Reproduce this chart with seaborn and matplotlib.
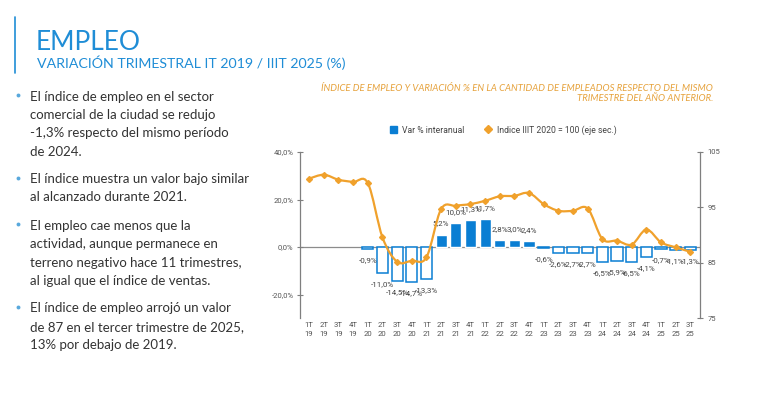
import matplotlib.pyplot as plt
import numpy as np
import pandas as pd
import seaborn as sns
from matplotlib.lines import Line2D
from matplotlib.patches import Patch, PathPatch
from matplotlib.path import Path

QUARTERS = [
    "1T\n19", "2T\n19", "3T\n19", "4T\n19",
    "1T\n20", "2T\n20", "3T\n20", "4T\n20",
    "1T\n21", "2T\n21", "3T\n21", "4T\n21",
    "1T\n22", "2T\n22", "3T\n22", "4T\n22",
    "1T\n23", "2T\n23", "3T\n23", "4T\n23",
    "1T\n24", "2T\n24", "3T\n24", "4T\n24",
    "1T\n25", "2T\n25", "3T\n25",
]
# year-on-year change (%), no data for 2019
VAR_PCT = [
    np.nan, np.nan, np.nan, np.nan,
    -0.9, -11.0, -14.5, -14.7,
    -13.3, 5.2, 10.0, 11.3,
    11.7, 2.8, 3.0, 2.4,
    -0.6, -2.6, -2.7, -2.7,
    -6.5, -5.9, -6.5, -4.1,
    -0.7, -1.1, -1.3,
]
# employment index, IIIT 2020 = 100 (secondary axis)
INDEX = [
    100.2, 100.9, 100.0, 99.6,
    99.4, 89.6, 85.2, 85.4,
    86.0, 94.7, 95.3, 95.6,
    96.2, 97.0, 97.1, 97.6,
    95.6, 94.4, 94.4, 94.8,
    89.3, 89.0, 88.3, 91.0,
    88.7, 87.8, 87.0,
]
LEFT_TICKS = [-20, 0, 20, 40]
RIGHT_TICKS = [75, 85, 95, 105]

BULLETS = [
    ["El índice de empleo en el sector",
     "comercial de la ciudad se redujo",
     "-1,3% respecto del mismo período",
     "de 2024."],
    ["El índice muestra un valor bajo similar",
     "al alcanzado durante 2021."],
    ["El empleo cae menos que la",
     "actividad, aunque permanece en",
     "terreno negativo hace 11 trimestres,",
     "al igual que el índice de ventas."],
    ["El índice de empleo arrojó un valor",
     "de 87 en el tercer trimestre de 2025,",
     "13% por debajo de 2019."],
]

BLUE = "#0A7ED3"
TITLE_BLUE = "#1F8DD6"
ORANGE = "#F0A12C"
GOLD = "#E6A23C"
TEXT = "#333333"
W, H = 768, 399


def fmt(v):
    return f"{v:.1f}".replace(".", ",")


def smooth_path(xs, ys):
    # cubic bezier through the points, like a spreadsheet "smoothed line"
    pts = np.column_stack([xs, ys])
    verts = [pts[0]]
    codes = [Path.MOVETO]
    n = len(pts)
    for i in range(n - 1):
        p0 = pts[max(i - 1, 0)]
        p1 = pts[i]
        p2 = pts[i + 1]
        p3 = pts[min(i + 2, n - 1)]
        c1 = p1 + (p2 - p0) / 6
        c2 = p2 - (p3 - p1) / 6
        verts += [c1, c2, p2]
        codes += [Path.CURVE4] * 3
    return Path(verts, codes)


def fy(py):
    return 1 - py / H


def main():
    sns.set_theme(style="white")
    plt.rcParams["font.family"] = ["Roboto", "DejaVu Sans"]

    fig = plt.figure(figsize=(W / 100, H / 100), dpi=100)
    fig.patch.set_facecolor("white")

    # header
    fig.add_artist(Line2D([15 / W, 15 / W], [fy(17), fy(73)], color=TITLE_BLUE, lw=1.2))
    fig.text(36 / W, fy(50), "EMPLEO", fontsize=19, color=TITLE_BLUE, family="Lato", va="baseline")
    fig.text(37 / W, fy(68.5), "VARIACIÓN TRIMESTRAL IT 2019 / IIIT 2025 (%)", fontsize=10.2,
             color=TITLE_BLUE, family="Lato", va="baseline")

    # bullet text
    baselines = [[100.7, 119, 137.3, 155.7], [183.3, 200.7], [229.7, 248.3, 266.7, 285], [312.3, 330.7, 349]]
    for lines, ys in zip(BULLETS, baselines):
        fig.add_artist(Line2D([17.5 / W], [fy(ys[0] - 5.5)], ls="none", marker="o", ms=2.8,
                              color="#58A8DC", mec="none"))
        for line, y in zip(lines, ys):
            fig.text(30 / W, fy(y), line, fontsize=9.5, color=TEXT, family="Lato", va="baseline")

    # chart subtitle
    fig.text(713 / W, fy(91), "ÍNDICE DE EMPLEO Y VARIACIÓN % EN LA CANTIDAD DE EMPLEADOS RESPECTO DEL MISMO",
             fontsize=6.8, color=GOLD, style="italic", family="Lato", ha="right", va="baseline")
    fig.text(713 / W, fy(101), "TRIMESTRE DEL AÑO ANTERIOR.",
             fontsize=6.8, color=GOLD, style="italic", family="Lato", ha="right", va="baseline")

    ax = fig.add_axes([299.5 / W, fy(318.3), (700 - 299.5) / W, (318.3 - 152) / H])
    df = pd.DataFrame({"quarter": QUARTERS, "var": VAR_PCT})
    sns.barplot(data=df.dropna(), x="quarter", y="var", order=QUARTERS, color=BLUE,
                saturation=1, width=0.76, ax=ax)

    for bar in ax.patches:
        h = bar.get_height()
        if not np.isfinite(h):
            continue
        if h < 0:
            bar.set_facecolor("white")
            bar.set_edgecolor(BLUE)
            bar.set_linewidth(1.1)
        xc = bar.get_x() + bar.get_width() / 2
        ax.annotate(fmt(h) + "%", (xc, h), xytext=(0, 8 if h > 0 else -8), textcoords="offset points",
                    ha="center", va="center", fontsize=5.8, color="#444444", zorder=5)

    ax.axhline(0, color="#8C8C8C", lw=0.9, zorder=0)
    ax.set_xlim(-0.66, len(QUARTERS) - 0.34)
    ax.set_ylim(-30, 40)
    ax.set_yticks(LEFT_TICKS)
    ax.set_yticklabels([fmt(t) + "%" for t in LEFT_TICKS])
    ax.set_xlabel("")
    ax.set_ylabel("")

    ax2 = ax.twinx()
    xs = np.arange(len(QUARTERS))
    ax2.add_patch(PathPatch(smooth_path(xs, INDEX), facecolor="none", edgecolor=ORANGE, lw=1.6, zorder=3))
    ax2.plot(xs, INDEX, ls="none", marker="D", ms=3, color=ORANGE, zorder=4)
    ax2.set_ylim(75, 105)
    ax2.set_yticks(RIGHT_TICKS)
    ax2.set_yticklabels([str(t) for t in RIGHT_TICKS])
    ax2.set_xlim(ax.get_xlim())

    for a in (ax, ax2):
        for s in ("top", "bottom"):
            a.spines[s].set_visible(False)
        a.set_facecolor("none")
    ax.spines["right"].set_visible(False)
    ax2.spines["left"].set_visible(False)
    ax.spines["left"].set_color("#7F7F7F")
    ax2.spines["right"].set_color("#7F7F7F")
    ax.spines["left"].set_linewidth(0.9)
    ax2.spines["right"].set_linewidth(0.9)

    ax.tick_params(axis="y", direction="inout", length=4.5, width=0.8, color="#7F7F7F",
                   labelsize=5.5, labelcolor="#555555", pad=2, left=True)
    ax2.tick_params(axis="y", direction="inout", length=4.5, width=0.8, color="#7F7F7F",
                    labelsize=5.5, labelcolor="#555555", pad=3, right=True)
    ax.tick_params(axis="x", length=0, labelsize=5.6, labelcolor="#555555", pad=3)
    for lbl in ax.get_xticklabels():
        lbl.set_linespacing(1.45)

    handles = [
        Patch(facecolor=BLUE, edgecolor=BLUE, label="Var % interanual"),
        Line2D([], [], ls="none", marker="D", ms=4, color=ORANGE, label="Indice IIIT 2020 = 100 (eje sec.)"),
    ]
    fig.legend(handles=handles, loc="center", bbox_to_anchor=(503 / W, fy(130)), ncol=2, frameon=False,
               fontsize=6.2, handlelength=0.9, handleheight=0.9, handletextpad=0.6, columnspacing=2.2,
               labelcolor="#444444")

    fig.savefig("out.png", dpi=100, facecolor="white")
    plt.close(fig)


if __name__ == "__main__":
    main()
